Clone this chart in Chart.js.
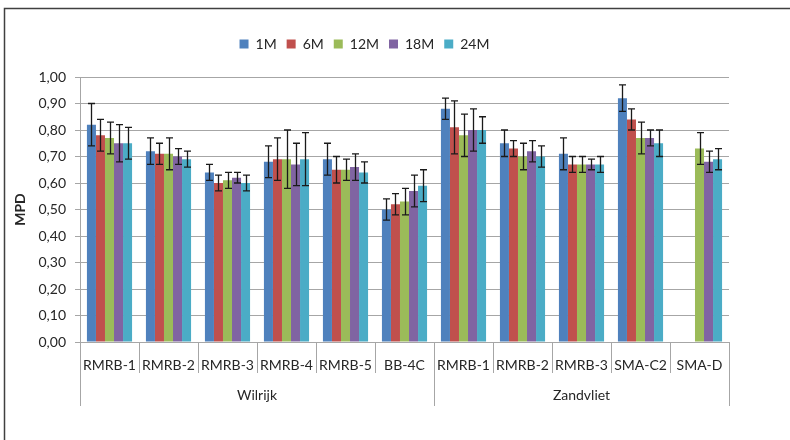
<!DOCTYPE html>
<html>
<head>
<meta charset="utf-8">
<script src="https://cdn.jsdelivr.net/npm/chart.js@4.4.1/dist/chart.umd.min.js"></script>
<style>
html,body{margin:0;padding:0;background:#fff;}
#wrap{width:790px;height:440px;position:relative;}
</style>
</head>
<body>
<div id="wrap"><canvas id="c" width="790" height="440"></canvas></div>
<script>
const categories = ['RMRB-1','RMRB-2','RMRB-3','RMRB-4','RMRB-5','BB-4C','RMRB-1','RMRB-2','RMRB-3','SMA-C2','SMA-D'];
const groupNames = ['Wilrijk','Zandvliet'];
const groupSizes = [6,5];
const seriesNames = ['1M','6M','12M','18M','24M'];
const yTicks = [0,0.1,0.2,0.3,0.4,0.5,0.6,0.7,0.8,0.9,1.0];

const v1M  = [0.82,0.72,0.64,0.68,0.69,0.50,0.88,0.75,0.71,0.92,null];
const v6M  = [0.78,0.71,0.60,0.69,0.65,0.52,0.81,0.73,0.67,0.84,null];
const v12M = [0.77,0.71,0.61,0.69,0.65,0.53,0.78,0.70,0.67,0.77,0.73];
const v18M = [0.75,0.70,0.62,0.67,0.66,0.57,0.80,0.72,0.67,0.77,0.68];
const v24M = [0.75,0.69,0.60,0.69,0.64,0.59,0.80,0.70,0.67,0.75,0.69];

const e1M  = [0.08,0.05,0.03,0.06,0.06,0.04,0.04,0.05,0.06,0.05,null];
const e6M  = [0.06,0.04,0.03,0.08,0.05,0.04,0.10,0.03,0.03,0.04,null];
const e12M = [0.06,0.06,0.03,0.11,0.04,0.05,0.08,0.05,0.03,0.06,0.06];
const e18M = [0.07,0.03,0.02,0.08,0.05,0.06,0.08,0.04,0.02,0.03,0.04];
const e24M = [0.06,0.03,0.03,0.10,0.04,0.06,0.05,0.04,0.03,0.05,0.04];

const values = [v1M,v6M,v12M,v18M,v24M];
const errors = [e1M,e6M,e12M,e18M,e24M];
const colors = ['#4F81BD','#C0504D','#9BBB59','#8064A2','#4BACC6'];

const FONT = 'Lato, "Open Sans", sans-serif';
const TXT = '#262626';
const GRID = '#a6a6a6';

const bgPlugin = {
  id:'bg',
  beforeDraw(chart){
    const ctx = chart.ctx;
    ctx.save();
    ctx.fillStyle = '#fff';
    ctx.fillRect(0,0,chart.width,chart.height);
    ctx.strokeStyle = '#404040';
    ctx.lineWidth = 1.5;
    ctx.beginPath();
    ctx.moveTo(4.5, chart.height);
    ctx.lineTo(4.5, 8.5);
    ctx.lineTo(chart.width, 8.5);
    ctx.stroke();
    ctx.restore();
  }
};

const legendFix = {
  id:'legendFix',
  beforeInit(chart){
    const lg = chart.legend;
    if(!lg) return;
    const orig = lg.fit;
    lg.fit = function(){ orig.call(this); this.height = 50; };
  }
};

const errPlugin = {
  id:'errbars',
  afterDatasetsDraw(chart){
    const ctx = chart.ctx;
    const ys = chart.scales.y;
    ctx.save();
    ctx.strokeStyle = '#1a1a1a';
    ctx.lineWidth = 1.3;
    chart.data.datasets.forEach((ds, i) => {
      const meta = chart.getDatasetMeta(i);
      meta.data.forEach((el, j) => {
        const v = ds.data[j], e = errors[i][j];
        if (v === null || e === null || e === undefined) return;
        const x = Math.round(el.x) + 0.5;
        const yt = ys.getPixelForValue(v + e);
        const yb = ys.getPixelForValue(v - e);
        ctx.beginPath();
        ctx.moveTo(x, yt); ctx.lineTo(x, yb);
        ctx.moveTo(x - 3.5, yt); ctx.lineTo(x + 3.5, yt);
        ctx.moveTo(x - 3.5, yb); ctx.lineTo(x + 3.5, yb);
        ctx.stroke();
      });
    });
    ctx.restore();
  }
};

const axisPlugin = {
  id:'multiAxis',
  afterDraw(chart){
    const ctx = chart.ctx;
    const xs = chart.scales.x;
    const n = categories.length;
    const b = chart.chartArea.bottom;
    const bounds = [];
    for (let i = 0; i <= n; i++) {
      if (i === 0) bounds.push(xs.left);
      else if (i === n) bounds.push(xs.right);
      else bounds.push((xs.getPixelForValue(i-1) + xs.getPixelForValue(i)) / 2);
    }
    const groupEdges = [0];
    groupSizes.forEach(s => groupEdges.push(groupEdges[groupEdges.length-1] + s));
    ctx.save();
    ctx.strokeStyle = GRID;
    ctx.lineWidth = 1;
    bounds.forEach((bx, i) => {
      const x = Math.round(bx) + 0.5;
      const long = groupEdges.includes(i);
      ctx.beginPath();
      ctx.moveTo(x, b);
      ctx.lineTo(x, b + (long ? 64 : 31));
      ctx.stroke();
    });
    ctx.fillStyle = TXT;
    ctx.font = '14px ' + FONT;
    ctx.textAlign = 'center';
    ctx.textBaseline = 'middle';
    groupNames.forEach((g, k) => {
      const cx = (bounds[groupEdges[k]] + bounds[groupEdges[k+1]]) / 2;
      ctx.fillText(g, cx, b + 53);
    });
    ctx.restore();
  }
};

new Chart(document.getElementById('c'), {
  type:'bar',
  data:{
    labels: categories,
    datasets: seriesNames.map((name, i) => ({
      label: name,
      data: values[i],
      backgroundColor: colors[i],
      borderWidth: 0,
      categoryPercentage: 0.765,
      barPercentage: 1.0
    }))
  },
  options:{
    responsive:false,
    animation:false,
    devicePixelRatio:1,
    layout:{ padding:{ left:0, right:61, top:27, bottom:0 } },
    plugins:{
      legend:{
        position:'top',
        labels:{ boxWidth:9, boxHeight:9, padding:10, color:TXT, font:{ family:FONT, size:14 } }
      },
      tooltip:{ enabled:false }
    },
    scales:{
      x:{
        offset:true,
        grid:{ display:true, drawOnChartArea:false, drawTicks:false, color:GRID },
        border:{ display:true, color:GRID, width:1 },
        ticks:{ color:TXT, font:{ family:FONT, size:14 }, padding:15, maxRotation:0, autoSkip:false },
        afterFit(s){ s.height = 98; }
      },
      y:{
        min:0, max:1.0,
        afterBuildTicks(s){ s.ticks = yTicks.map(v => ({ value:v })); },
        grid:{ color:GRID, tickLength:5, lineWidth:1 },
        border:{ display:true, color:GRID, width:1 },
        ticks:{ color:TXT, font:{ family:FONT, size:14 }, padding:9,
          callback:(v) => Number(v).toFixed(2).replace('.', ',') },
        title:{ display:true, text:'MPD', color:TXT, font:{ family:FONT, size:14, weight:'bold' }, padding:{ top:12, bottom:0 } },
        afterFit(s){ s.width = 80; }
      }
    }
  },
  plugins:[bgPlugin, legendFix, errPlugin, axisPlugin]
});
</script>
</body>
</html>
